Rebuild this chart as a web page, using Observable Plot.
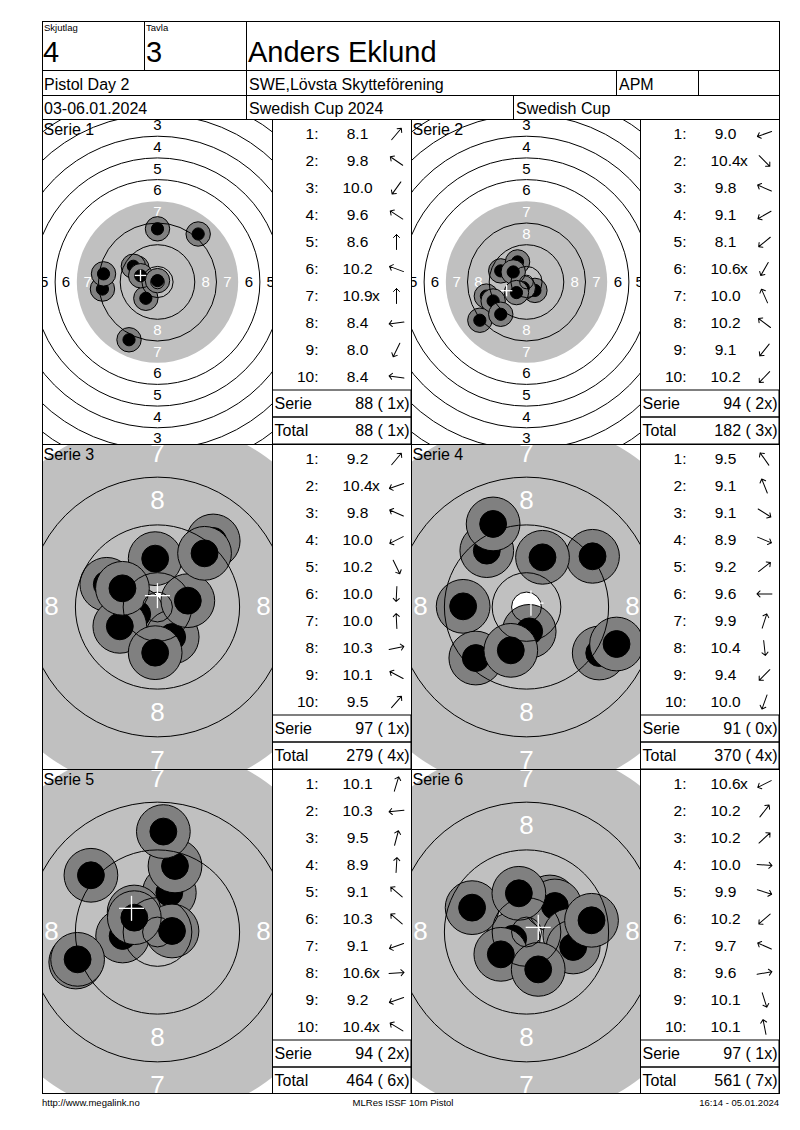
<!DOCTYPE html>
<html><head><meta charset="utf-8">
<script src="https://cdn.jsdelivr.net/npm/d3@7"></script>
<script src="https://cdn.jsdelivr.net/npm/@observablehq/plot@0.6"></script>
<style>
html,body{margin:0;padding:0;background:#fff;}
#page{position:relative;width:800px;height:1130px;font-family:"Liberation Sans",Arial,sans-serif;color:#000;overflow:hidden;background:#fff;}
.ln{position:absolute;background:#000;z-index:5;}
.t{position:absolute;white-space:pre;line-height:1;z-index:6;}
.abs{position:absolute;}
.abs svg{display:block;}
</style></head><body><div id="page"></div>
<script>
// ---------- data ----------
const relay = "4", lane = "3", shooter = "Anders Eklund";
const eventName = "Pistol Day 2", club = "SWE,Lövsta Skytteförening", klass = "APM";
const dates = "03-06.01.2024", competition = "Swedish Cup 2024", cup = "Swedish Cup";
const footLeft = "http://www.megalink.no", footMid = "MLRes ISSF 10m Pistol", footRight = "16:14 - 05.01.2024";

const serieNames = ["Serie 1","Serie 2","Serie 3","Serie 4","Serie 5","Serie 6"];

const scores1 = ["8.1","9.8","10.0","9.6","8.6","10.2","10.9x","8.4","8.0","8.4"];
const shotX1  = [15.0,-7.6,-4.3,-8.9,0.0,-6.2,0.0,-20.3,-10.5,-19.9];
const shotY1  = [17.7,5.2,-6.0,5.8,19.6,2.3,0.5,-2.6,-21.3,3.0];

const scores2 = ["9.0","10.4x","9.8","9.1","8.1","10.6x","10.0","10.2","9.1","10.2"];
const shotX2  = [-14.8,3.1,-9.5,-12.3,-17.2,-1.2,-3.3,-4.9,-9.5,-3.7];
const shotY2  = [-5.2,-3.1,4.1,-7.0,-14.1,-2.1,7.4,3.7,-11.9,-3.9];

const scores3 = ["9.2","10.4x","9.8","10.0","10.2","10.0","10.0","10.3","10.1","9.5"];
const shotX3  = [9.33,-3.4,-8.49,-6.31,2.46,-0.39,-0.39,5.08,-5.87,7.88];
const shotY3  = [11.06,-1.2,3.80,-3.24,-5.03,-7.65,8.10,1.06,3.13,8.99];

const scores4 = ["9.5","9.1","9.1","8.9","9.2","9.6","9.9","10.4","9.4","10.0"];
const shotX4  = [-6.65,-5.59,12.18,15.08,11.06,-10.61,2.68,0.45,-8.49,-2.63];
const shotY4  = [9.44,13.91,-7.71,-6.20,8.49,0.11,8.32,-4.08,-8.55,-7.26];

const scores5 = ["10.1","10.3","9.5","8.9","9.1","10.3","9.1","10.6x","9.2","10.4x"];
const shotX5  = [1.98,-5.84,2.93,0.98,-11.15,-3.91,-13.69,2.43,-13.38,-3.88];
const shotY5  = [6.59,-0.67,11.06,16.82,9.50,3.35,-5.03,0.17,-4.58,2.40];

const scores6 = ["10.6x","10.2","10.2","10.0","9.9","10.2","9.7","9.6","10.1","10.1"];
const shotX6  = [-2.23,3.91,4.75,7.26,7.82,-4.30,-9.11,10.89,1.96,-1.28];
const shotY6  = [-1.12,5.03,4.36,-0.56,-2.51,-3.74,4.08,1.96,-6.26,6.48];

const serieTotals = [88,94,97,91,94,97];
const serieInner  = [1,2,1,0,2,1];
const runTotals   = [88,182,279,370,464,561];
const runInner    = [1,3,4,4,6,7];

// ISSF 10 m pistol target (mm)
const ringValues  = [1,2,3,4,5,6,7,8,9,10];
const ringRadii   = [77.75,69.75,61.75,53.75,45.75,37.75,29.75,21.75,13.75,5.75];
const innerTenR   = 2.5;
const labelRadii  = [73.75,65.75,57.75,49.75,41.75,33.75,25.75,17.75]; // rings 1..8
const pelletR     = 2.25;
const markerR     = 4.5;

const allScores = [scores1,scores2,scores3,scores4,scores5,scores6];
const allX = [shotX1,shotX2,shotX3,shotX4,shotX5,shotX6];
const allY = [shotY1,shotY2,shotY3,shotY4,shotY5,shotY6];

// ---------- layout ----------
const page = document.getElementById("page");
const FONT = "Liberation Sans, Arial, sans-serif";
const viewHalf = [42.4,42.4,19.26,19.26,19.26,19.26]; // half view width in mm
const aimR = [29.75,29.75,31,31,31,31];               // drawn aiming-area radius (mm)
const labelFont = [15,15,26,26,26,26];
const panelTop = [119,119,443.5,443.5,768.5,768.5];
const targetLeft = [42,410.5,42,410.5,42,410.5];
const tableLeft = [272,640,272,640,272,640];

function line(x,y,w,h){const d=document.createElement("div");d.className="ln";
  Object.assign(d.style,{left:x+"px",top:y+"px",width:w+"px",height:h+"px"});page.appendChild(d);}
function txt(str,x,base,size,anchor){const d=document.createElement("div");d.className="t";
  d.textContent=str;d.style.fontSize=size+"px";d.style.top=(base-0.8465*size)+"px";
  if(anchor==="end"){d.style.right=(800-x)+"px";}
  else if(anchor==="middle"){d.style.left=x+"px";d.style.transform="translateX(-50%)";}
  else d.style.left=x+"px";
  page.appendChild(d);}
function place(node,x,y){const w=document.createElement("div");w.className="abs";
  w.style.left=x+"px";w.style.top=y+"px";w.appendChild(node);page.appendChild(w);}

function targetPlot(s){
  const half=viewHalf[s], k=230/(2*half), hh=325/(2*k);
  const xs=allX[s], ys=allY[s];
  const shots=xs.map((x,i)=>({i,x,y:ys[i]}));
  const disks=shots.flatMap(d=>[{x:d.x,y:d.y,r:markerR,part:"outer"},{x:d.x,y:d.y,r:pelletR,part:"inner"}]);
  const mpi={x:d3.mean(shots,d=>d.x),y:d3.mean(shots,d=>d.y)};
  const C=2.1;
  const labels=labelRadii.flatMap((m,j)=>{const n=ringValues[j];const inside=m<aimR[s];
    return [[0,m],[0,-m],[m,0],[-m,0]].map(([x,y])=>({x,y,t:String(n),inside}));});
  const lines=ringRadii.filter((r,j)=>ringValues[j]!==7).concat([innerTenR]);
  return Plot.plot({
    width:230,height:325,margin:0,
    x:{domain:[-half,half],axis:null},
    y:{domain:[-hh,hh],axis:null},
    r:{type:"linear",domain:[0,1],range:[0,k]},
    color:{domain:["outer","inner"],range:["#808080","#000000"]},
    style:{background:"#fff",fontFamily:FONT,overflow:"hidden"},
    marks:[
      Plot.dot([aimR[s]],{x:()=>0,y:()=>0,r:d=>d,fill:"#c0c0c0",stroke:"none"}),
      Plot.text(labels.filter(l=>l.inside),{x:"x",y:"y",text:"t",fill:"#fff",fontSize:labelFont[s]}),
      Plot.text(labels.filter(l=>!l.inside),{x:"x",y:"y",text:"t",fill:"#000",fontSize:labelFont[s]}),
      Plot.dot([innerTenR],{x:()=>0,y:()=>0,r:d=>d,fill:"#fff",stroke:"none"}),
      Plot.dot(disks,{x:"x",y:"y",r:"r",fill:"part",stroke:"#000",strokeWidth:1,sort:null}),
      Plot.dot(lines,{x:()=>0,y:()=>0,r:d=>d,fill:"none",stroke:"#000",strokeWidth:1,sort:null}),
      Plot.link([mpi],{x1:d=>d.x-C,x2:d=>d.x+C,y1:"y",y2:"y",stroke:"#fff",strokeWidth:1.3}),
      Plot.link([mpi],{x1:"x",x2:"x",y1:d=>d.y-C,y2:d=>d.y+C,stroke:"#fff",strokeWidth:1.3}),
      Plot.text([serieNames[s]],{frameAnchor:"top-left",textAnchor:"start",lineAnchor:"top",dx:1,dy:4,fontSize:16,fill:"#000"})
    ]
  });
}

function tablePlot(s){
  const xs=allX[s], ys=allY[s];
  const rows=allScores[s].map((sc,i)=>({key:String(i+1),no:(i+1)+":",num:sc.replace("x",""),
    flag:sc.endsWith("x")?"x":"",rot:Math.atan2(xs[i],ys[i])*180/Math.PI}));
  const fmt=(v,x)=>`${v} (${String(x).padStart(2," ")}x)`;
  const sum=[{key:"Serie",label:"Serie",val:fmt(serieTotals[s],serieInner[s])},
             {key:"Total",label:"Total",val:fmt(runTotals[s],runInner[s])}];
  return Plot.plot({
    width:139,height:325,margin:0,
    x:{type:"point",domain:["no","score","dir"],range:[46,124],padding:0,axis:null},
    y:{type:"band",domain:rows.map(r=>r.key).concat(["Serie","Total"]),range:[0,325],padding:0,axis:null},
    style:{background:"#fff",fontFamily:FONT,overflow:"hidden"},
    marks:[
      Plot.cell(sum,{y:"key",fill:"none",stroke:"#000",strokeWidth:1}),
      Plot.text(rows,{x:()=>"no",y:"key",text:"no",textAnchor:"end",fontSize:15.5,fill:"#000"}),
      Plot.text(rows,{x:()=>"score",y:"key",text:"num",fontSize:15.5,fill:"#000"}),
      Plot.text(rows.filter(r=>r.flag),{x:()=>"score",y:"key",text:"flag",dx:14.5,textAnchor:"start",fontSize:15.5,fill:"#000"}),
      Plot.vector(rows,{x:()=>"dir",y:"key",rotate:"rot",length:15,anchor:"middle",stroke:"#000",strokeWidth:1}),
      Plot.text(sum,{y:"key",text:"label",frameAnchor:"left",textAnchor:"start",dx:2,fontSize:16,fill:"#000"}),
      Plot.text(sum,{y:"key",text:"val",frameAnchor:"right",textAnchor:"end",dx:-2,fontSize:16,fill:"#000"})
    ]
  });
}

for(let s=0;s<6;s++){
  place(targetPlot(s),targetLeft[s],panelTop[s]);
  place(tablePlot(s),tableLeft[s],panelTop[s]);
}

// grid lines
[21,70,95,119,444,769,1093].forEach(y=>line(42,y,738,1));
line(42,21,1,1073); line(779,21,1,1073);
line(144,21,1,49); line(246,21,1,98);
line(616,70,1,25); line(698,70,1,25); line(513,95,1,24);
[272,411,640].forEach(x=>line(x,119,1,975));

// header text
txt("Skjutlag",44,31,9.5); txt("Tavla",146,31,9.5);
txt(relay,43,63,29); txt(lane,146,63,29); txt(shooter,248,63,29);
txt(eventName,44,91,16); txt(club,249,91,16); txt(klass,619,91,16);
txt(dates,44,114.5,16); txt(competition,249,114.5,16); txt(cup,516,114.5,16);
// footer
txt(footLeft,42,1106,9.5); txt(footMid,403,1106,9.5,"middle"); txt(footRight,779,1106,9.5,"end");
</script></body></html>
